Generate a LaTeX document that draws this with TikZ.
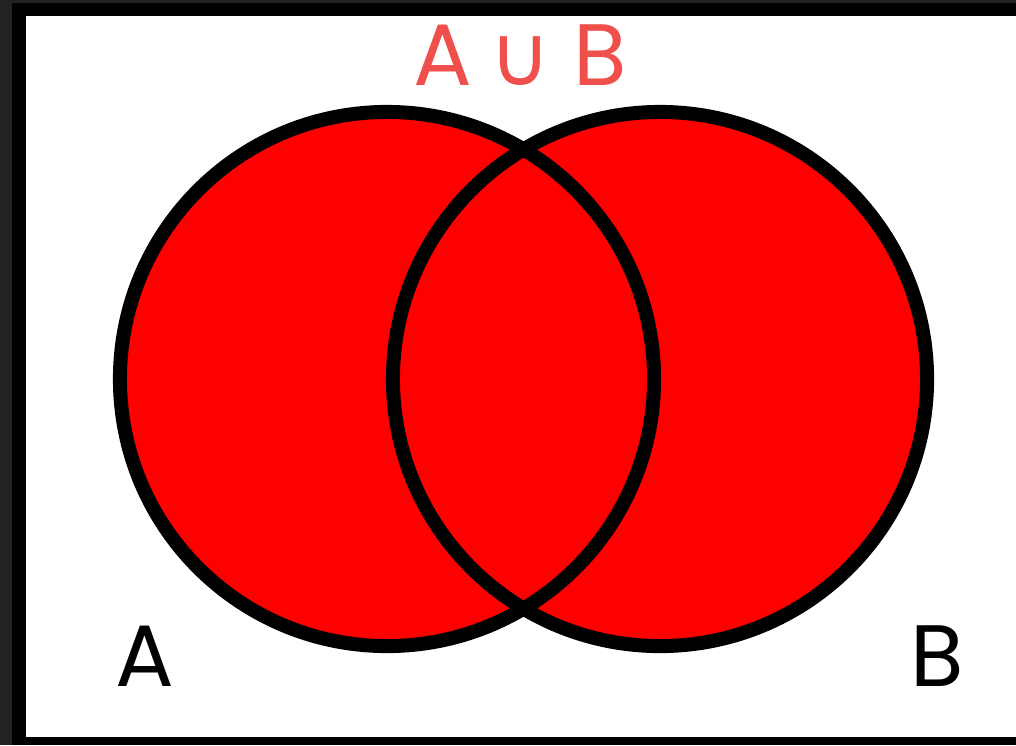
\documentclass[tikz,border=0pt]{standalone}
\usepackage{fontspec}
\setmainfont{Poppins}
\newfontfamily\symfont{DejaVu Sans}
\definecolor{titlered}{HTML}{F0504B}
\definecolor{framegray}{HTML}{222222}
\begin{document}
\begin{tikzpicture}[x=0.025cm, y=-0.025cm,
  set/.style={fill=red},
  outline/.style={draw=black, line width=0.35cm},
  label/.style={anchor=base, inner sep=0pt, font=\fontsize{62}{66}\selectfont}
]
  \useasboundingbox (0,0) rectangle (1016,745);

  % Frame
  \fill[framegray] (0,0) rectangle (1016,745);
  \fill[black] (12,3) rectangle (1016,745);
  \fill[white] (26,16) rectangle (1016,737);

  % Sets
  \coordinate (cA) at (387,379);
  \coordinate (cB) at (660,379);
  \fill[set] (cA) circle[radius=6.675cm];
  \fill[set] (cB) circle[radius=6.675cm];
  \draw[outline] (cA) circle[radius=6.675cm];
  \draw[outline] (cB) circle[radius=6.675cm];

  % Labels
  \node[label, text=titlered] (title) at (520,85) {A\hspace{0.2em}{\symfont\fontsize{60}{64}\selectfont ∪}\hspace{0.25em}B};
  \node[label] (labelA) at (145,686) {A};
  \node[label] (labelB) at (937,686) {B};
\end{tikzpicture}
\end{document}
